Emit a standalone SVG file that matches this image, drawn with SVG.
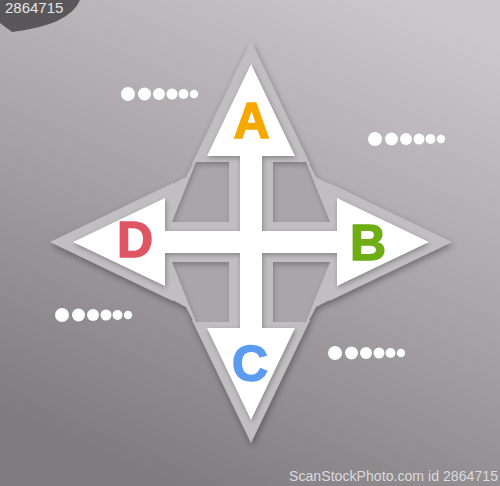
<svg xmlns="http://www.w3.org/2000/svg" xmlns:xlink="http://www.w3.org/1999/xlink" width="500" height="486" viewBox="0 0 500 486">
  <style>
    .letter { font-family: "Liberation Sans", Arial, sans-serif; font-weight: bold; font-size: 50px; text-anchor: middle; stroke-width: 1.4; }
    .dot { fill: #fdfdfd; }
    .wm { font-family: "Liberation Sans", Arial, sans-serif; }
  </style>
  <defs>
    <linearGradient id="bg" x1="0.8" y1="0" x2="0.35" y2="1">
      <stop offset="0" stop-color="#cbc7cb"/>
      <stop offset="0.5" stop-color="#a7a3a7"/>
      <stop offset="1" stop-color="#7f7b7f"/>
    </linearGradient>
    <linearGradient id="frameFill" gradientUnits="userSpaceOnUse" x1="0" y1="40" x2="0" y2="445">
      <stop offset="0" stop-color="#c0bec0"/>
      <stop offset="1" stop-color="#aaa8aa"/>
    </linearGradient>
    <linearGradient id="quadFill" gradientUnits="userSpaceOnUse" x1="0" y1="160" x2="0" y2="325">
      <stop offset="0" stop-color="#a9a6a9"/>
      <stop offset="1" stop-color="#9c989c"/>
    </linearGradient>
    <filter id="frameShadow" x="-20%" y="-20%" width="140%" height="140%">
      <feGaussianBlur in="SourceAlpha" stdDeviation="3"/>
      <feOffset dx="1" dy="3" result="b"/>
      <feFlood flood-color="#000" flood-opacity="0.35"/>
      <feComposite in2="b" operator="in"/>
      <feMerge><feMergeNode/><feMergeNode in="SourceGraphic"/></feMerge>
    </filter>
    <filter id="inset" x="-10%" y="-10%" width="120%" height="120%">
      <feFlood flood-color="#000" flood-opacity="0.45"/>
      <feComposite in2="SourceAlpha" operator="out"/>
      <feOffset dx="1" dy="3"/>
      <feGaussianBlur stdDeviation="2.5"/>
      <feComposite in2="SourceAlpha" operator="in" result="sh"/>
      <feMerge><feMergeNode in="SourceGraphic"/><feMergeNode in="sh"/></feMerge>
    </filter>
    <filter id="blur" x="-20%" y="-20%" width="140%" height="140%">
      <feGaussianBlur stdDeviation="2.5"/>
    </filter>
    <g id="frameArrow">
      <polygon points="0,-201 59,-78 -59,-78"/>
      <rect x="-21" y="-81" width="42" height="81"/>
    </g>
    <polygon id="quadZone" points="11,-80 57,-80 65,-65 80,-57 80,-11 11,-11"/>
    <polygon id="quadHole" points="22,-80 55,-80 79,-20 22,-20"/>
    <polygon id="whiteArrow" points="0,-178 44,-86 11,-86 11,11 -11,11 -11,-86 -44,-86"/>
    <g id="dotRow">
      <circle class="dot" cx="0" cy="0" r="7"/>
      <circle class="dot" cx="16.5" cy="0" r="6.5"/>
      <circle class="dot" cx="31" cy="0" r="6"/>
      <circle class="dot" cx="44" cy="0" r="5.5"/>
      <circle class="dot" cx="55.5" cy="0" r="5"/>
      <circle class="dot" cx="66" cy="0" r="4.2"/>
    </g>
  </defs>

  <rect x="0" y="0" width="500" height="486" fill="url(#bg)"/>

  <g id="corner-watermark">
    <path d="M0,0 H80 Q70,25 12,32 L0,23 Z" fill="#59575a"/>
    <text class="wm" x="5" y="13" font-size="15" fill="#e6e4e6">2864715</text>
  </g>

  <g id="frame" fill="url(#frameFill)" filter="url(#frameShadow)">
    <use xlink:href="#frameArrow" transform="translate(251,242)"/>
    <use xlink:href="#frameArrow" transform="translate(251,242) rotate(90)"/>
    <use xlink:href="#frameArrow" transform="translate(251,242) rotate(180)"/>
    <use xlink:href="#frameArrow" transform="translate(251,242) rotate(270)"/>
    <use xlink:href="#quadZone" transform="translate(251,242)"/>
    <use xlink:href="#quadZone" transform="translate(251,242) scale(-1,1)"/>
    <use xlink:href="#quadZone" transform="translate(251,242) scale(1,-1)"/>
    <use xlink:href="#quadZone" transform="translate(251,242) scale(-1,-1)"/>
  </g>

  <g id="quadrants" fill="url(#quadFill)" filter="url(#inset)">
    <use xlink:href="#quadHole" transform="translate(251,242)"/>
    <use xlink:href="#quadHole" transform="translate(251,242) scale(-1,1)"/>
    <use xlink:href="#quadHole" transform="translate(251,242) scale(1,-1)"/>
    <use xlink:href="#quadHole" transform="translate(251,242) scale(-1,-1)"/>
  </g>

  <g id="white-shadow" fill="#000" opacity="0.3" filter="url(#blur)">
    <use xlink:href="#whiteArrow" transform="translate(252,244)"/>
    <use xlink:href="#whiteArrow" transform="translate(252,244) rotate(90)"/>
    <use xlink:href="#whiteArrow" transform="translate(252,244) rotate(180)"/>
    <use xlink:href="#whiteArrow" transform="translate(252,244) rotate(270)"/>
  </g>

  <g id="arrow-a">
    <use xlink:href="#whiteArrow" fill="#ffffff" transform="translate(251,242)"/>
    <text class="letter" x="251.5" y="138" fill="#f6a800" stroke="#f6a800">A</text>
  </g>
  <g id="arrow-b">
    <use xlink:href="#whiteArrow" fill="#ffffff" transform="translate(251,242) rotate(90)"/>
    <text class="letter" x="368" y="260" fill="#6fad17" stroke="#6fad17">B</text>
  </g>
  <g id="arrow-c">
    <use xlink:href="#whiteArrow" fill="#ffffff" transform="translate(251,242) rotate(180)"/>
    <text class="letter" x="250" y="381" fill="#5b9cf0" stroke="#5b9cf0">C</text>
  </g>
  <g id="arrow-d">
    <use xlink:href="#whiteArrow" fill="#ffffff" transform="translate(251,242) rotate(270)"/>
    <text class="letter" x="135" y="257" fill="#e05563" stroke="#e05563">D</text>
  </g>

  <g id="dots-1"><use xlink:href="#dotRow" transform="translate(128,94)"/></g>
  <g id="dots-2"><use xlink:href="#dotRow" transform="translate(375,139)"/></g>
  <g id="dots-3"><use xlink:href="#dotRow" transform="translate(62,315)"/></g>
  <g id="dots-4"><use xlink:href="#dotRow" transform="translate(335,353)"/></g>

  <text class="wm" x="289" y="481" font-size="14" fill="#dcdadc" textLength="209" lengthAdjust="spacingAndGlyphs">ScanStockPhoto.com id 2864715</text>
</svg>
